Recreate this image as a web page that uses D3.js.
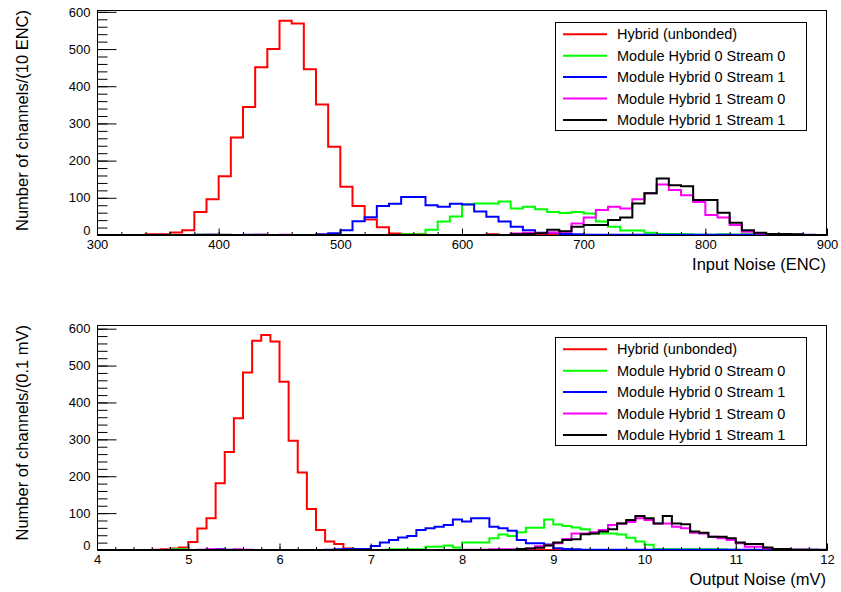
<!DOCTYPE html>
<html><head><meta charset="utf-8">
<script src="https://cdn.jsdelivr.net/npm/d3@7"></script>
<style>
body{margin:0;background:#fff}
svg{display:block}
text{font-family:"Liberation Sans",Arial,Helvetica,sans-serif;fill:#000}
</style>
</head><body>
<svg id="c" width="841" height="592"></svg>
<script>
// ---------- data ----------
const seriesNames = ["Hybrid (unbonded)","Module Hybrid 0 Stream 0","Module Hybrid 0 Stream 1","Module Hybrid 1 Stream 0","Module Hybrid 1 Stream 1"];
const seriesColors = ["#ff0000","#00ff00","#0000ff","#ff00ff","#000000"];

// Input noise: bins of 10 ENC from 300 to 900 (60 bins)
const inputStart = 300, inputWidth = 10;
const inputRed = [0,0,0,0,2,2,7,13,62,96, 158,262,344,451,500,576,569,446,351,237, 130,78,42,21,4,2,2,0,0,0, 0,0,2,0,0,0,0,2,0,0, 0,0,0,0,0,0,0,0,0,0, 0,0,0,0,0,0,0,0,0,0];
const inputGreen = [0,0,0,0,0,0,0,0,1,1, 1,0,0,0,0,0,0,0,0,0, 0,0,0,0,0,2,2,14,36,50, 83,85,85,90,71,76,69,62,59,62, 58,36,22,12,12,6,3,3,2,1, 1,2,1,2,0,1,2,0,0,0];
const inputBlue = [0,0,0,0,0,0,0,0,1,1, 0,0,1,1,0,0,0,0,2,5, 13,37,48,78,84,102,102,80,76,84, 82,63,49,36,22,13,6,6,3,2, 1,1,1,1,1,1,1,1,1,1, 1,1,1,1,1,1,1,1,1,0];
const inputMagenta = [0,0,0,0,0,0,0,0,0,1, 1,0,0,1,0,1,0,0,1,0, 0,0,0,0,0,0,0,0,0,0, 0,0,0,0,4,6,5,7,9,31, 47,67,76,71,96,112,136,121,107,89, 54,47,27,9,4,3,3,1,0,0];
const inputBlack = [0,0,0,0,0,0,0,0,0,0, 0,0,0,0,0,0,0,0,0,0, 0,0,0,0,0,0,0,0,0,0, 0,0,0,0,2,3,5,14,10,22, 27,27,40,47,85,112,152,134,131,94, 94,60,33,13,6,3,3,2,0,0];

// Output noise: bins of 0.1 mV from 4 to 12 (80 bins)
const outputStart = 4, outputWidth = 0.1;
const outputRed = [0,0,0,0,0,0,1,2,4,7, 22,58,86,181,266,357,481,567,583,565, 456,296,210,111,54,23,16,4,1,0, 0,0,0,0,0,0,0,0,0,0, 0,0,0,0,0,0,0,0,0,0, 2,1,0,0,0,0,0,0,0,0, 0,0,0,0,0,0,0,0,0,0, 0,0,0,0,0,0,0,0,0,0];
const outputGreen = [0,0,0,0,0,0,0,0,2,2, 0,0,0,0,0,0,0,0,0,0, 0,0,0,0,0,0,0,0,0,0, 0,0,2,2,2,2,9,9,12,7, 20,20,20,32,42,38,48,60,60,83, 69,65,61,56,45,45,45,42,33,23, 14,3,2,2,2,2,2,2,2,1, 0,0,0,0,0,0,0,0,0,0];
const outputBlue = [0,0,0,0,0,0,0,0,0,0, 0,0,1,2,1,0,0,0,0,0, 0,0,0,0,0,1,2,3,3,3, 11,20,27,34,38,54,59,63,68,83, 77,86,86,63,59,52,27,18,18,15, 5,3,2,1,1,1,1,1,1,1, 1,1,1,1,1,1,1,1,1,1, 1,1,1,1,1,1,1,1,1,1];
const outputMagenta = [0,0,0,0,0,0,0,0,0,0, 0,1,2,1,0,2,1,0,0,0, 0,0,0,0,0,0,0,0,0,0, 0,0,0,0,0,0,0,0,0,0, 1,1,1,2,2,2,3,4,10,13, 18,30,45,45,48,54,68,72,76,86, 81,72,72,63,59,47,45,36,32,27, 18,9,9,5,2,2,1,1,0,0];
const outputBlack = [0,0,0,0,0,0,0,0,0,0, 0,0,0,0,0,0,0,0,0,0, 0,0,0,0,0,0,0,0,0,0, 0,0,0,0,0,0,0,0,0,0, 0,0,0,0,0,0,3,4,6,12, 20,27,29,43,45,50,56,72,81,92, 86,72,92,72,70,50,47,36,36,32, 20,16,16,7,3,3,1,1,1,0];

const inputXTicks = [300,400,500,600,700,800,900];
const outputXTicks = [4,5,6,7,8,9,10,11,12];
const yTicks = [0,100,200,300,400,500,600];

// ---------- layout ----------
const svg = d3.select("#c");
const L = 97, R = 827;

function drawPanel(cfg){
  const {top, bottom, xDomain, yMax, start, width, series, xTicks, xMinorStep, yTitle, xTitle, id} = cfg;
  const x = d3.scaleLinear().domain(xDomain).range([L, R]);
  const y = d3.scaleLinear().domain([0, yMax]).range([bottom, top]);
  const g = svg.append("g");

  g.append("clipPath").attr("id", "clip"+id).append("rect")
    .attr("x", L).attr("y", top).attr("width", R-L).attr("height", bottom-top);

  // histograms
  const line = d3.line().x(d => x(d[0])).y(d => y(d[1]));
  series.forEach((vals, si) => {
    const pts = [];
    vals.forEach((v, i) => {
      const lo = start + i*width, hi = start + (i+1)*width;
      pts.push([lo, v], [hi, v]);
    });
    g.append("path").attr("d", line(pts))
      .attr("fill", "none").attr("stroke", seriesColors[si])
      .attr("stroke-width", 2).attr("stroke-linejoin", "miter")
      .attr("clip-path", "url(#clip"+id+")");
  });

  // frame
  g.append("rect").attr("x", L+0.5).attr("y", top+0.5)
    .attr("width", R-L-1).attr("height", bottom-top)
    .attr("fill", "none").attr("stroke", "#000").attr("stroke-width", 1);

  // y axis
  const yMinor = d3.range(0, 601, 20);
  g.append("g").attr("transform", `translate(${L+0.5},0)`)
    .call(d3.axisLeft(y).tickValues(yMinor).tickSize(-10).tickFormat(""))
    .call(a => a.select(".domain").remove());
  g.append("g").attr("transform", `translate(${L+0.5},0)`)
    .call(d3.axisLeft(y).tickValues(yTicks).tickSize(-19).tickPadding(7).tickFormat(d3.format("d")))
    .call(a => a.select(".domain").remove())
    .call(a => a.selectAll("text").attr("font-size", 13).attr("font-family", null)
      .attr("dy", d => d === 0 ? "-0.05em" : "0.32em"));

  // x axis
  const xMinor = d3.range(xDomain[0], xDomain[1] + xMinorStep/2, xMinorStep);
  g.append("g").attr("transform", `translate(0,${bottom+0.5})`)
    .call(d3.axisBottom(x).tickValues(xMinor).tickSize(-3.5).tickFormat(""))
    .call(a => a.select(".domain").remove());
  g.append("g").attr("transform", `translate(0,${bottom+0.5})`)
    .call(d3.axisBottom(x).tickValues(xTicks).tickSize(-7).tickPadding(4).tickFormat(d3.format("d")))
    .call(a => a.select(".domain").remove())
    .call(a => a.selectAll("text").attr("font-size", 13).attr("font-family", null));

  g.selectAll(".tick line").attr("stroke", "#000");

  // titles
  g.append("text").attr("x", 826).attr("y", bottom + 35)
    .attr("text-anchor", "end").attr("font-size", 16.5).text(xTitle);
  g.append("text").attr("transform", `translate(28,${top}) rotate(-90)`)
    .attr("text-anchor", "end").attr("font-size", 16.5).text(yTitle);

  // legend
  const lg = g.append("g");
  lg.append("rect").attr("x", 555.5).attr("y", top + 12.5)
    .attr("width", 251).attr("height", 108)
    .attr("fill", "#fff").attr("stroke", "#000").attr("stroke-width", 1);
  seriesNames.forEach((name, i) => {
    const cy = top + 24.3 + 21.4*i;
    lg.append("line").attr("x1", 563).attr("x2", 607).attr("y1", cy).attr("y2", cy)
      .attr("stroke", seriesColors[i]).attr("stroke-width", 2);
    lg.append("text").attr("x", 617).attr("y", cy + 5)
      .attr("font-size", 14.5).text(name);
  });
}

drawPanel({id:"a", top:10, bottom:235, xDomain:[300,900], yMax:605, start:inputStart, width:inputWidth,
  series:[inputRed,inputGreen,inputBlue,inputMagenta,inputBlack], xTicks:inputXTicks, xMinorStep:20,
  yTitle:"Number of channels/(10 ENC)", xTitle:"Input Noise (ENC)"});
drawPanel({id:"b", top:325, bottom:550, xDomain:[4,12], yMax:610, start:outputStart, width:outputWidth,
  series:[outputRed,outputGreen,outputBlue,outputMagenta,outputBlack], xTicks:outputXTicks, xMinorStep:0.2,
  yTitle:"Number of channels/(0.1 mV)", xTitle:"Output Noise (mV)"});
</script>
</body></html>
